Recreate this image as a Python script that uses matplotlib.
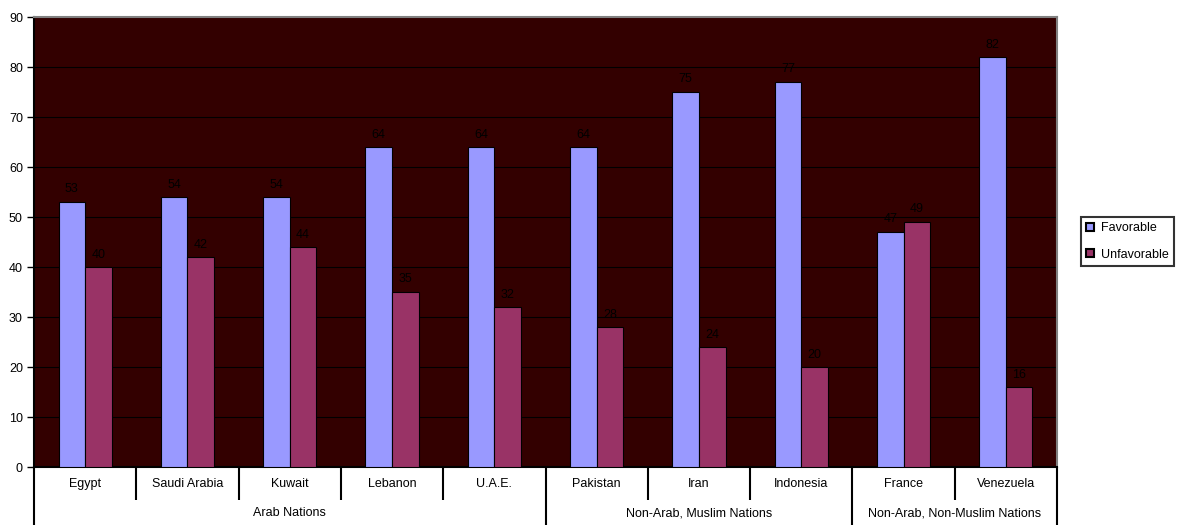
import matplotlib
matplotlib.use("Agg")
import matplotlib.pyplot as plt
import matplotlib.transforms as mtransforms
from matplotlib.patches import Patch
import numpy as np

plt.rcParams['font.family'] = ['Liberation Sans', 'DejaVu Sans']

countries = ["Egypt", "Saudi Arabia", "Kuwait", "Lebanon", "U.A.E.",
             "Pakistan", "Iran", "Indonesia", "France", "Venezuela"]
favorable = [53, 54, 54, 64, 64, 64, 75, 77, 47, 82]
unfavorable = [40, 42, 44, 35, 32, 28, 24, 20, 49, 16]
groups = ["Arab Nations", "Non-Arab, Muslim Nations", "Non-Arab, Non-Muslim Nations"]
group_sizes = [5, 3, 2]

W, H = 1182, 525
fig = plt.figure(figsize=(W / 100, H / 100), dpi=100)
ax = fig.add_axes([34 / W, 1 - 467 / H, (1057 - 34) / W, 450 / H])
ax.set_facecolor("#330000")

x = np.arange(len(countries))
bw = 0.26
b1 = ax.bar(x - bw / 2, favorable, bw, color="#9999FF", edgecolor="black", linewidth=0.8,
            label="Favorable", zorder=3)
b2 = ax.bar(x + bw / 2, unfavorable, bw, color="#993366", edgecolor="black", linewidth=0.8,
            label="Unfavorable", zorder=3)
for bars, vals in ((b1, favorable), (b2, unfavorable)):
    for r, v in zip(bars, vals):
        ax.text(r.get_x() + r.get_width() / 2, v + 1.3, f"{v}", ha="center", va="bottom",
                fontsize=9, color="black", zorder=4)

ax.set_xlim(-0.5, len(countries) - 0.5)
ax.set_ylim(0, 90)
ax.set_yticks(range(0, 91, 10))
ax.yaxis.grid(True, color="black", linewidth=0.8, zorder=1)
ax.set_axisbelow(True)
ax.set_xticks([])
ax.tick_params(axis="y", direction="out", length=5, width=1, labelsize=9, pad=3)
ax.spines["left"].set_color("black")
ax.spines["left"].set_linewidth(1.5)
ax.spines["bottom"].set_color("black")
ax.spines["bottom"].set_linewidth(1.5)
ax.spines["top"].set_color("#808080")
ax.spines["top"].set_linewidth(1.5)
ax.spines["right"].set_color("#808080")
ax.spines["right"].set_linewidth(1.5)

# Two-level category axis below the plot
trans = mtransforms.blended_transform_factory(ax.transData, ax.transAxes)
y_row1 = -33 / 450
y_row2 = -58 / 450
boundaries = np.arange(len(countries) + 1) - 0.5
group_edges = set(np.cumsum([0] + group_sizes))
for i, b in enumerate(boundaries):
    ybot = y_row2 if i in group_edges else y_row1
    ax.plot([b, b], [0, ybot], transform=trans, color="black", linewidth=1.5,
            clip_on=False, solid_capstyle="butt")
for xi, name in zip(x, countries):
    ax.text(xi, -17 / 450, name, transform=trans, ha="center", va="center", fontsize=9)
start = 0
for g, n in zip(groups, group_sizes):
    ax.text(start + (n - 1) / 2, -46 / 450, g, transform=trans, ha="center",
            va="center", fontsize=9)
    start += n

leg = fig.legend(handles=[Patch(facecolor="#9999FF", edgecolor="black", linewidth=1.5, label="Favorable"),
                          Patch(facecolor="#993366", edgecolor="black", linewidth=1.5, label="Unfavorable")],
                 loc="center left", bbox_to_anchor=(1081 / W, 1 - 241.5 / H), fontsize=9,
                 frameon=True, fancybox=False, edgecolor="black", handlelength=0.6,
                 handleheight=0.6, handletextpad=0.6, borderpad=0.4, labelspacing=1.15,
                 borderaxespad=0)
leg.get_frame().set_linewidth(1.5)

fig.savefig("out.png", dpi=100, facecolor="white")
